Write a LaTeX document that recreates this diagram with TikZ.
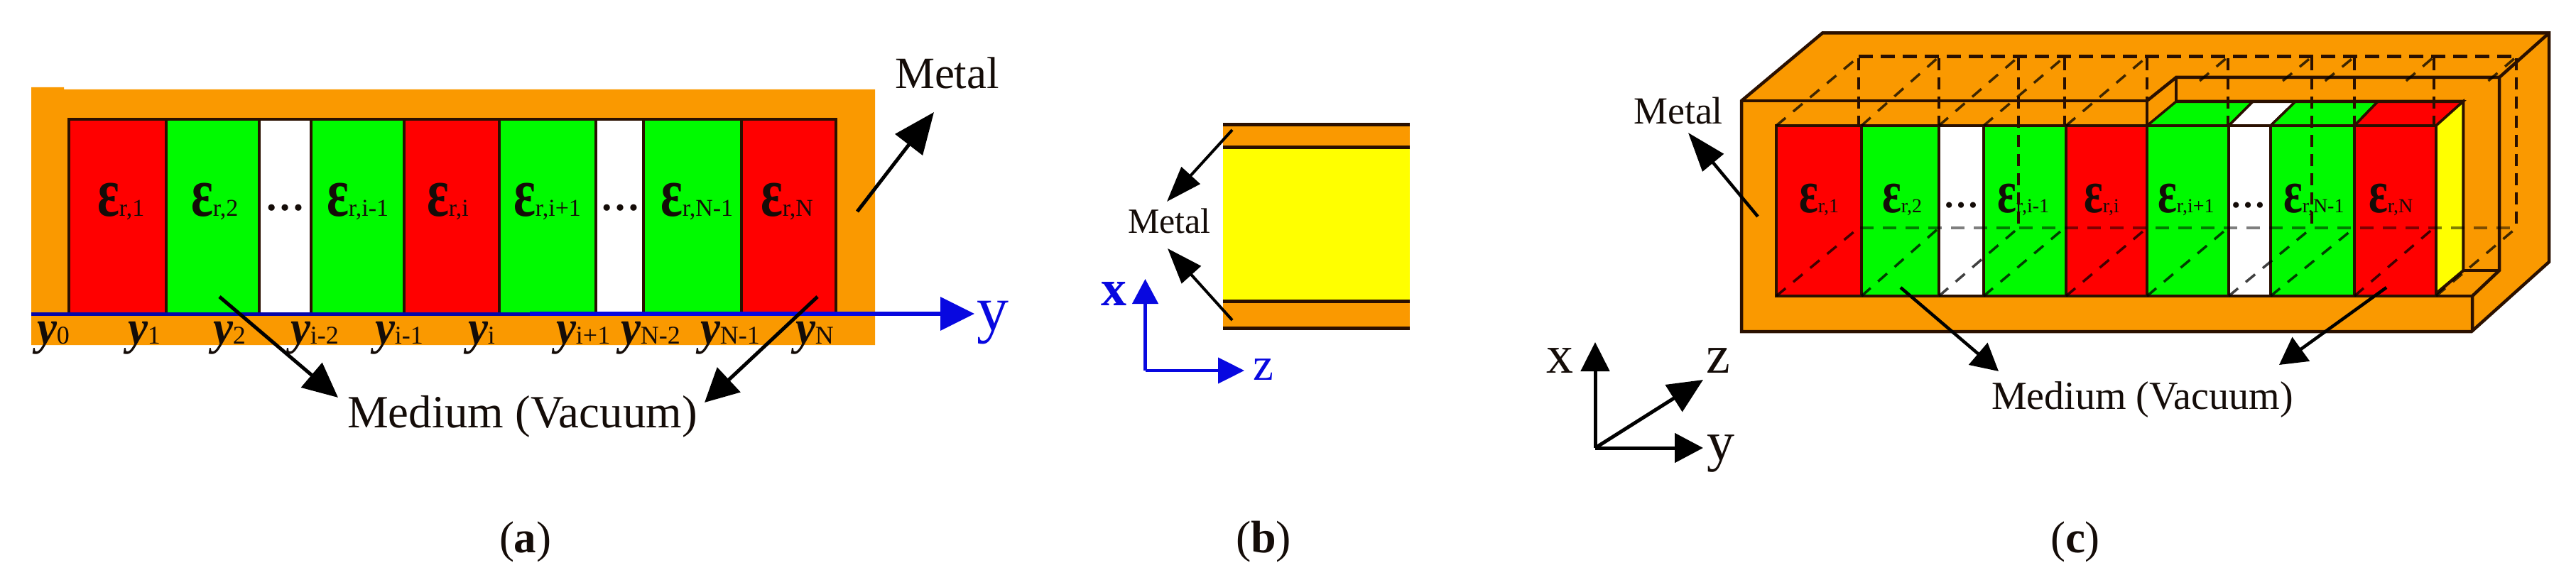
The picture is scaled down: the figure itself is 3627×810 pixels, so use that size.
\documentclass[tikz,border=0pt]{standalone}
\usepackage{fontspec}
\usepackage{graphicx}
\setmainfont{Liberation Serif}
\usetikzlibrary{arrows.meta,calc}
\definecolor{metal}{HTML}{FA9900}
\definecolor{dk}{HTML}{2A1000}
\definecolor{ink}{HTML}{140C08}
\definecolor{rd}{HTML}{FF0000}
\definecolor{gr}{HTML}{00FA00}
\definecolor{yl}{HTML}{FFFF00}
\definecolor{bl}{HTML}{0808E0}
\newcommand{\fs}[1]{\fontsize{#1}{#1}\selectfont}
\newcommand{\epsA}[1]{\scalebox{.95}[1.3]{\fs{76}\bfseries ε}{\fs{34}#1}}
\newcommand{\epsC}[1]{\scalebox{.95}[1.3]{\fs{66}\bfseries ε}{\fs{28}#1}}
\newcommand{\ylab}[1]{\scalebox{1}[1.08]{\fs{63}\bfseries\itshape y}{\fs{36}#1}}
\tikzset{
  txt/.style={anchor=base west,inner sep=0pt,outer sep=0pt,text=ink},
  wall/.style={draw=dk,line width=4.5pt,line join=miter},
  leader/.style={draw=black,line width=5pt},
  bhead/.style n args={2}{-{Triangle[length=#1,width=#2]}},
  topdash/.style={draw=dk,line width=5pt,dash pattern=on 20pt off 11pt},
  vdash/.style={draw=dk,line width=3.5pt,dash pattern=on 17pt off 10pt},
  diagdash/.style={draw=black,draw opacity=.75,line width=3.5pt,dash pattern=on 17pt off 14pt},
  middash/.style={draw=black,draw opacity=.5,line width=4pt,dash pattern=on 19pt off 13pt},
}
\begin{document}
\begin{tikzpicture}[x=1pt,y=-1pt]
\useasboundingbox[fill=white] (0,0) rectangle (3627,810);

% ===== panel (a) =====
\fill[metal] (44,123)--(90,123)--(90,126)--(1232,126)--(1232,486)--(44,486)--cycle;
\foreach \l/\r/\c in {97/234/rd,234/365/gr,365/438/white,438/569/gr,569/703/rd,703/839/gr,839/906/white,906/1044/gr,1044/1177/rd}
  \filldraw[fill=\c,wall] (\l,168) rectangle (\r,442);
\node[txt] (ae1) at (137,305) {\epsA{r,1}};
\node[txt] (ae2) at (269,305) {\epsA{r,2}};
\node[txt] (ae3) at (460,305) {\epsA{r,i-1}};
\node[txt] (ae4) at (601,305) {\epsA{r,i}};
\node[txt] (ae5) at (723,305) {\epsA{r,i+1}};
\node[txt] (ae6) at (930,305) {\epsA{r,N-1}};
\node[txt] (ae7) at (1071,305) {\epsA{r,N}};
\node[txt,anchor=base] (ad1) at (401,297) {\fs{56}\bfseries …};
\node[txt,anchor=base] (ad2) at (873,297) {\fs{56}\bfseries …};
\node[txt] (ay0) at (52,484) {\ylab{0}};
\node[txt] (ay1) at (180,484) {\ylab{1}};
\node[txt] (ay2) at (300,484) {\ylab{2}};
\node[txt] (ay3) at (409,484) {\ylab{i-2}};
\node[txt] (ay4) at (528,484) {\ylab{i-1}};
\node[txt] (ay5) at (659,484) {\ylab{i}};
\node[txt] (ay6) at (783,484) {\ylab{i+1}};
\node[txt] (ay7) at (874,484) {\ylab{N-2}};
\node[txt] (ay8) at (986,484) {\ylab{N-1}};
\node[txt] (ay9) at (1120,484) {\ylab{N}};
\coordinate (aAxisL) at (44,442);
\coordinate (aAxisM) at (746,442);
\coordinate (aAxisTip) at (1372,442);
\draw[draw=bl!75!black,line width=5pt] (aAxisL)--(aAxisM);
\draw[draw=bl,line width=6.5pt,bhead={48pt}{46pt},color=bl] (aAxisM)--(aAxisTip);
\node[txt,text=bl] (ayAxis) at (1375,465) {\fs{90}y};
\node[txt] (aMed) at (489,602) {\fs{65}Medium (Vacuum)};
\node[txt] (aMetal) at (1260,125) {\fs{63}Metal};
\coordinate (aM1s) at (309,418); \coordinate (aM1t) at (476,560);
\coordinate (aM2s) at (1151,418); \coordinate (aM2t) at (992,567);
\coordinate (aMes) at (1207,298); \coordinate (aMet) at (1315,158);
\draw[leader,bhead={49pt}{45pt}] (aM1s)--(aM1t);
\draw[leader,bhead={47pt}{47pt}] (aM2s)--(aM2t);
\draw[leader,bhead={58pt}{48pt}] (aMes)--(aMet);
\node[txt] (capa) at (703,778) {\fs{63}(\textbf{a})};

% ===== panel (b) =====
\fill[metal] (1722,174) rectangle (1985,464);
\fill[yl] (1722,208) rectangle (1985,424);
\draw[wall,line width=5pt] (1722,176)--(1985,176);
\draw[wall,line width=5pt] (1722,208)--(1985,208);
\draw[wall,line width=5pt] (1722,424)--(1985,424);
\draw[wall,line width=5pt] (1722,462)--(1985,462);
\node[txt] (bMetal) at (1588,328) {\fs{50}Metal};
\coordinate (bUs) at (1735,183); \coordinate (bUt) at (1643,284);
\coordinate (bLs) at (1735,451); \coordinate (bLt) at (1644,350);
\draw[leader,line width=4pt,bhead={50pt}{35pt}] (bUs)--(bUt);
\draw[leader,line width=4pt,bhead={50pt}{36pt}] (bLs)--(bLt);
\coordinate (bO) at (1612.5,522);
\coordinate (bX) at (1612.5,393);
\coordinate (bZ) at (1752,522);
\draw[draw=bl,line width=4.5pt,color=bl,bhead={35pt}{36pt}] (bO)--(bX);
\draw[draw=bl,line width=4.5pt,color=bl,bhead={37pt}{36pt}] (bO)--(bZ);
\node[txt,text=bl] (bxl) at (1550,430) {\fs{72}\bfseries x};
\node[txt,text=bl] (bzl) at (1764,535) {\fs{65}z};
\node[txt] (capb) at (1740,778) {\fs{64}(\textbf{b})};

% ===== panel (c) =====
\filldraw[fill=metal,wall] (2452,142)--(2566,46.5)--(3589,46.5)--(3589,369)--(3480,467)--(2452,467)--cycle;
\draw[wall] (2452,142)--(3023,142)--(3023,177);
\draw[wall] (3023,142)--(3064,109)--(3519,109)--(3589,46.5);
\draw[wall] (3064,109)--(3064,143);
\draw[wall] (3519,109)--(3519,381)--(3481,417)--(3481,467);
\draw[wall] (3430,417)--(3481,417);
\draw[wall] (3468,381)--(3519,381);
% top faces of the slab, right part
\foreach \a/\b/\c/\d/\e in {3023/3064/3172/3138/gr,3138/3172/3232/3197/white,3197/3232/3348/3315/gr,3315/3348/3468/3430/rd}
  \filldraw[fill=\e,draw=dk,line width=3.5pt] (\a,177)--(\b,143)--(\c,143)--(\d,177)--cycle;
\draw[wall] (3064,143)--(3468,143)--(3468,381)--(3431,413);
\filldraw[fill=yl,wall,line width=3.5pt] (3430,177)--(3468,143)--(3468,381)--(3430,413)--cycle;
\foreach \l/\r/\c in {2501/2621/rd,2621/2730/gr,2730/2793/white,2793/2909/gr,2909/3023/rd,3023/3138/gr,3138/3197/white,3197/3315/gr,3315/3430/rd}
  \filldraw[fill=\c,wall] (\l,177) rectangle (\r,417);
\node[txt] (ce1) at (2533,300) {\epsC{r,1}};
\node[txt] (ce2) at (2650,300) {\epsC{r,2}};
\node[txt] (ce3) at (2812,300) {\epsC{r,i-1}};
\node[txt] (ce4) at (2934,300) {\epsC{r,i}};
\node[txt] (ce5) at (3038,300) {\epsC{r,i+1}};
\node[txt] (ce6) at (3215,300) {\epsC{r,N-1}};
\node[txt] (ce7) at (3335,300) {\epsC{r,N}};
\node[txt,anchor=base] (cd1) at (2761,293) {\fs{50}\bfseries …};
\node[txt,anchor=base] (cd2) at (3165,293) {\fs{50}\bfseries …};
% hidden edges
\draw[topdash] (2617,80)--(3543,80);
\foreach \x/\yy in {2617/177,2730/177,2842/321,2907/177,3023/142,3137/177,3255/321,3315/177,3427/177,3543/321}
  \draw[vdash] (\x,82)--(\x,\yy);
\draw[middash] (2619,321)--(3543,321);
\foreach \f/\g in {2501/2617,2621/2730,2730/2842,2793/2907,2909/3023}
  \draw[diagdash] (\f,177)--(\g,80);
\foreach \f/\g in {3023/3137,3138/3255,3197/3315,3315/3427,3430/3543}
  \draw[diagdash] ($(\f,177)!.65!(\g,80)$)--(\g,80);
\foreach \f/\g in {2501/2617,2621/2730,2730/2842,2793/2907,2909/3023,3023/3137,3138/3255,3197/3315,3315/3427,3430/3543}
  \draw[diagdash] (\f,417)--(\g,321);
\node[txt] (cMetal) at (2300,175) {\fs{54}Metal};
\node[txt] (cMed) at (2804,576) {\fs{56}Medium (Vacuum)};
\coordinate (cMes) at (2475,305); \coordinate (cMet) at (2377,187);
\coordinate (cM1s) at (2676,405); \coordinate (cM1t) at (2814,523);
\coordinate (cM2s) at (3360,405); \coordinate (cM2t) at (3209,514);
\draw[leader,line width=4.5pt,bhead={55pt}{38pt}] (cMes)--(cMet);
\draw[leader,line width=4.5pt,bhead={38pt}{40pt}] (cM1s)--(cM1t);
\draw[leader,line width=4.5pt,bhead={38pt}{41pt}] (cM2s)--(cM2t);
\coordinate (cO) at (2246,631);
\coordinate (cX) at (2246,482);
\coordinate (cY) at (2398,631);
\coordinate (cZ) at (2398,535);
\draw[leader,line width=5pt,bhead={41pt}{40pt}] (cO)--(cX);
\draw[leader,line width=5pt,bhead={40pt}{41pt}] (cO)--(cY);
\draw[leader,line width=5pt,bhead={49pt}{44pt}] (cO)--(cZ);
\node[txt] (cxl) at (2177,525) {\fs{76}x};
\node[txt] (cyl) at (2403,648) {\fs{78}y};
\node[txt] (czl) at (2402,525) {\fs{76}z};
\node[txt] (capc) at (2887,778) {\fs{63}(\textbf{c})};
\end{tikzpicture}
\end{document}
